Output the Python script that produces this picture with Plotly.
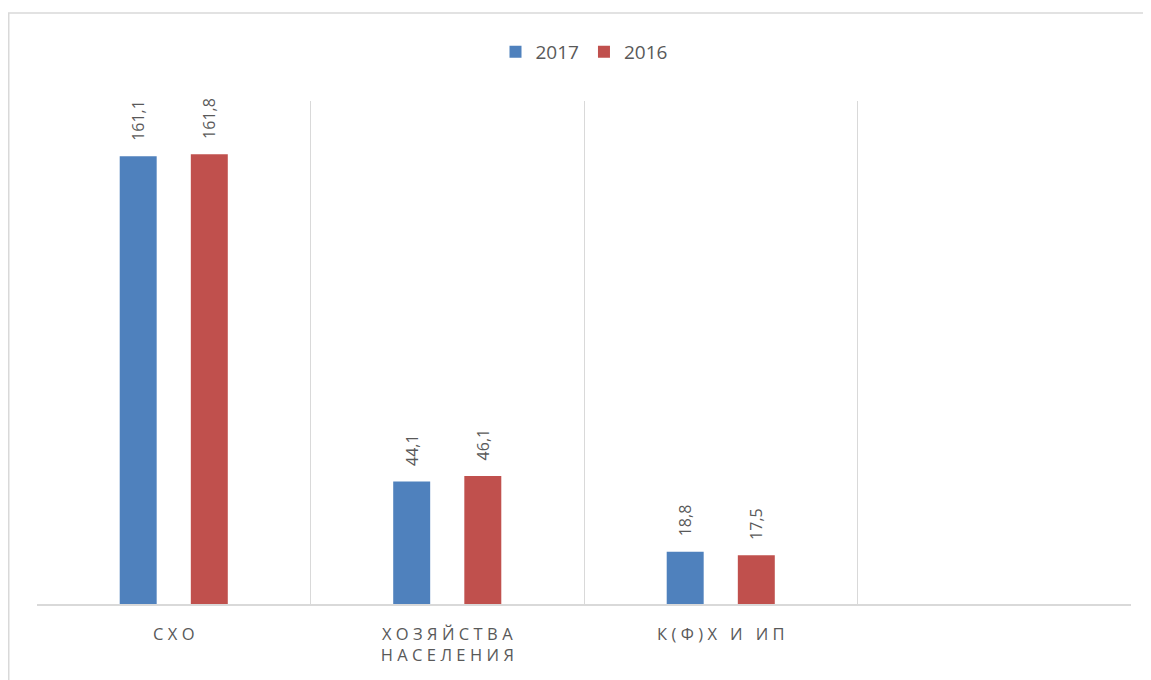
import plotly.graph_objects as go

# ---- data ----
categories = ["СХО", "ХОЗЯЙСТВА\nНАСЕЛЕНИЯ", "К(Ф)Х И ИП", ""]
series_names = ["2017", "2016"]
values_2017 = [161.1, 44.1, 18.8, None]
values_2016 = [161.8, 46.1, 17.5, None]
colors = ["#4F81BD", "#C0504D"]

# ---- layout geometry (pixels); page body adds an 8px offset ----
OFF = 8
W, H = 1151 - OFF, 680 - OFF
L, R, T, B = 37 - OFF, 20, 101 - OFF, 76
pw, ph = W - L - R, H - T - B


def spaced(label):
    if not label:
        return " "
    lines = []
    for line in label.split("\n"):
        lines.append("\u2009\u200a".join(line))
    return "<br>".join(lines)


tick_labels = [spaced(c) for c in categories]


def fmt(v):
    return "" if v is None else "\u00a0\u00a0\u00a0" + f"{v:.1f}".replace(".", ",")


fig = go.Figure()
for name, vals, col in zip(series_names, [values_2017, values_2016], colors):
    fig.add_trace(go.Bar(
        name=name,
        x=tick_labels,
        y=vals,
        marker=dict(color=col, line=dict(width=0)),
        text=[fmt(v) for v in vals],
        textposition="outside",
        textangle=-90,
        constraintext="none",
        cliponaxis=False,
        textfont=dict(family="Open Sans", size=16, color="#595959"),
    ))


def px_x(p):
    return (p - OFF - L) / pw


def px_y(p):
    return (H - B - (p - OFF)) / ph


fig.update_layout(
    width=W, height=H,
    margin=dict(l=L, r=R, t=T, b=B),
    paper_bgcolor="white",
    plot_bgcolor="white",
    barmode="group",
    bargap=0.48,
    bargroupgap=0.48,
    font=dict(family="Open Sans", color="#595959"),
    showlegend=True,
    legend=dict(
        orientation="h",
        x=0.5, xanchor="center",
        y=px_y(52), yanchor="middle",
        font=dict(size=19, color="#595959"),
        itemwidth=30,
        traceorder="normal",
    ),
    xaxis=dict(
        type="category",
        categoryorder="array",
        categoryarray=tick_labels,
        range=[-0.5, 3.5],
        tickson="boundaries",
        showgrid=True,
        gridcolor="#D9D9D9",
        gridwidth=1,
        showline=True,
        linecolor="#D9D9D9",
        linewidth=2,
        ticks="",
        ticklabelstandoff=14,
        tickfont=dict(family="Open Sans", size=16.5, color="#595959"),
        zeroline=False,
    ),
    yaxis=dict(
        range=[0, 181],
        showgrid=False,
        showticklabels=False,
        zeroline=False,
        showline=False,
        ticks="",
    ),
    shapes=[
        dict(type="line", xref="paper", yref="paper",
             x0=px_x(OFF), x1=px_x(1151 + 5), y0=px_y(13), y1=px_y(13),
             line=dict(color="#D9D9D9", width=1.5)),
        dict(type="line", xref="paper", yref="paper",
             x0=px_x(OFF + 0.75), x1=px_x(OFF + 0.75), y0=px_y(13), y1=px_y(680 + 5),
             line=dict(color="#D9D9D9", width=1.5)),
    ],
)

fig.write_html("out.html")
